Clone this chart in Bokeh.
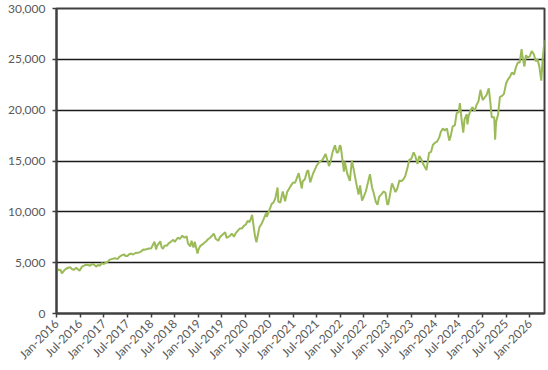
import pandas as pd
from bokeh.plotting import figure
from bokeh.models import ColumnDataSource, Range1d, FixedTicker, NumeralTickFormatter
from bokeh.embed import file_html
from bokeh.resources import INLINE
from math import pi

dates = [
    "2016-01-04", "2016-01-15", "2016-02-01", "2016-02-11", "2016-03-01", "2016-03-15", "2016-04-01", "2016-04-15",
    "2016-05-01", "2016-05-15", "2016-06-01", "2016-06-27", "2016-07-15", "2016-08-01", "2016-08-15", "2016-09-01",
    "2016-09-15", "2016-10-01", "2016-10-15", "2016-11-04", "2016-11-15", "2016-12-01", "2016-12-15",
    "2017-01-01", "2017-01-15", "2017-02-01", "2017-02-15", "2017-03-01", "2017-03-15", "2017-04-01", "2017-04-15",
    "2017-05-01", "2017-05-15", "2017-06-08", "2017-06-15", "2017-07-01", "2017-07-15", "2017-08-01", "2017-08-15",
    "2017-09-01", "2017-09-15", "2017-10-01", "2017-10-15", "2017-11-01", "2017-11-15", "2017-12-01", "2017-12-15",
    "2018-01-01", "2018-01-15", "2018-01-26", "2018-02-08", "2018-02-15", "2018-03-12", "2018-03-23", "2018-04-02",
    "2018-04-15", "2018-05-01", "2018-05-15", "2018-06-01", "2018-06-20", "2018-07-01", "2018-07-25", "2018-08-10",
    "2018-08-29", "2018-09-15", "2018-10-01", "2018-10-12", "2018-10-29", "2018-11-08", "2018-11-23", "2018-12-03",
    "2018-12-24",
    "2019-01-02", "2019-01-15", "2019-02-01", "2019-02-15", "2019-03-01", "2019-03-15", "2019-04-01", "2019-04-15",
    "2019-04-30", "2019-05-13", "2019-06-03", "2019-06-15", "2019-07-01", "2019-07-26", "2019-08-05", "2019-08-15",
    "2019-09-01", "2019-09-15", "2019-10-02", "2019-10-15", "2019-11-01", "2019-11-15", "2019-12-01", "2019-12-15",
    "2020-01-01", "2020-01-15", "2020-01-31", "2020-02-19", "2020-03-01", "2020-03-12", "2020-03-23", "2020-04-01",
    "2020-04-15", "2020-05-01", "2020-05-15", "2020-06-08", "2020-06-11", "2020-07-01", "2020-07-20", "2020-08-01",
    "2020-08-15", "2020-09-02", "2020-09-08", "2020-09-23", "2020-10-12", "2020-10-30", "2020-11-15", "2020-12-01",
    "2020-12-15",
    "2021-01-01", "2021-01-15", "2021-02-12", "2021-03-08", "2021-03-15", "2021-04-01", "2021-04-15", "2021-04-26",
    "2021-05-12", "2021-06-01", "2021-06-15", "2021-07-01", "2021-07-15", "2021-08-01", "2021-08-15", "2021-09-07",
    "2021-10-04", "2021-10-15", "2021-11-01", "2021-11-19", "2021-12-03", "2021-12-15", "2021-12-27",
    "2022-01-03", "2022-01-14", "2022-01-27", "2022-02-02", "2022-02-23", "2022-03-14", "2022-03-29", "2022-04-15",
    "2022-05-01", "2022-05-20", "2022-06-01", "2022-06-16", "2022-07-01", "2022-07-15", "2022-08-01", "2022-08-16",
    "2022-09-01", "2022-09-13", "2022-09-30", "2022-10-13", "2022-10-27", "2022-11-10", "2022-11-30", "2022-12-13",
    "2022-12-28",
    "2023-01-05", "2023-01-15", "2023-02-02", "2023-02-15", "2023-03-01", "2023-03-15", "2023-04-01", "2023-04-15",
    "2023-05-01", "2023-05-15", "2023-06-01", "2023-06-15", "2023-07-01", "2023-07-19", "2023-08-01", "2023-08-18",
    "2023-09-01", "2023-09-15", "2023-10-01", "2023-10-26", "2023-11-01", "2023-11-15", "2023-12-01", "2023-12-15",
    "2024-01-01", "2024-01-15", "2024-02-01", "2024-02-15", "2024-03-01", "2024-03-15", "2024-04-01", "2024-04-19",
    "2024-05-01", "2024-05-15", "2024-06-01", "2024-06-15", "2024-07-01", "2024-07-10", "2024-07-25", "2024-08-05",
    "2024-08-15", "2024-09-01", "2024-09-06", "2024-09-15", "2024-10-01", "2024-10-15", "2024-11-01", "2024-11-15",
    "2024-12-01", "2024-12-16",
    "2025-01-02", "2025-01-15", "2025-02-01", "2025-02-18", "2025-03-01", "2025-03-13", "2025-04-01", "2025-04-08",
    "2025-04-15", "2025-05-01", "2025-05-15", "2025-06-01", "2025-06-15", "2025-07-01", "2025-07-15", "2025-08-01",
    "2025-08-15", "2025-09-01", "2025-09-15", "2025-10-01", "2025-10-15", "2025-10-29", "2025-11-05", "2025-11-20",
    "2025-12-01", "2025-12-15",
    "2026-01-01", "2026-01-15", "2026-02-01", "2026-02-15", "2026-03-01", "2026-03-15", "2026-03-30", "2026-04-10",
    "2026-04-24",
]

values = [
    4500, 4250, 4300, 3950, 4250, 4400, 4500, 4550,
    4350, 4300, 4500, 4200, 4600, 4700, 4800, 4780,
    4700, 4880, 4820, 4600, 4780, 4700, 4950,
    4870, 5000, 5100, 5300, 5350, 5400, 5430, 5350,
    5580, 5700, 5820, 5650, 5650, 5830, 5900, 5800,
    5950, 5980, 6000, 6100, 6300, 6280, 6350, 6400,
    6400, 6800, 7050, 6300, 6650, 7100, 6500, 6350,
    6700, 6650, 6900, 7050, 7250, 7050, 7450, 7350,
    7650, 7450, 7600, 6900, 6600, 7150, 6500, 7050,
    5900,
    6350, 6650, 6800, 6950, 7100, 7300, 7450, 7650,
    7850, 7350, 7150, 7500, 7700, 8000, 7450, 7500,
    7650, 7850, 7550, 7900, 8150, 8350, 8350, 8600,
    8750, 9100, 9000, 9700, 8600, 7600, 7000, 7600,
    8500, 8800, 9200, 9950, 9500, 10200, 10800, 10900,
    11300, 12400, 11000, 10900, 12000, 11050, 11950, 12300,
    12600,
    12900, 12850, 13800, 12300, 13000, 13200, 13900, 14100,
    12900, 13700, 14100, 14550, 14800, 15000, 15100, 15700,
    14500, 14900, 15900, 16550, 15800, 15900, 16550,
    16400, 15300, 13950, 14950, 13700, 13050, 15050, 14000,
    12900, 11700, 12600, 11100, 11550, 12000, 12900, 13700,
    12400, 11900, 11000, 10700, 11500, 11700, 12000, 11900,
    10700,
    10800, 11500, 12800, 12400, 11950, 12300, 13100, 13000,
    13200, 13500, 14300, 15100, 15200, 15850, 15500, 14700,
    15500, 15200, 14700, 14100, 14600, 15800, 15900, 16600,
    16800, 16900, 17300, 17900, 18200, 18000, 18200, 17000,
    17500, 18400, 18500, 19700, 19800, 20700, 18900, 17800,
    19100, 19600, 18600, 19400, 20000, 20300, 19900, 20500,
    20900, 22000,
    21000, 21200, 21500, 22150, 20900, 19300, 19300, 17100,
    18800, 19600, 21300, 21400, 21600, 22600, 23000, 23300,
    23700, 23500, 24200, 24700, 24700, 26000, 25300, 24300,
    25400, 25200,
    25300, 25800, 25500, 24800, 25000, 24300, 22900, 25000,
    26900,
]

tick_dates = [
    "2016-01-01", "2016-07-01", "2017-01-01", "2017-07-01", "2018-01-01", "2018-07-01", "2019-01-01",
    "2019-07-01", "2020-01-01", "2020-07-01", "2021-01-01", "2021-07-01", "2022-01-01", "2022-07-01",
    "2023-01-01", "2023-07-01", "2024-01-01", "2024-07-01", "2025-01-01", "2025-07-01", "2026-01-01",
]
tick_labels = [
    "Jan-2016", "Jul-2016", "Jan-2017", "Jul-2017", "Jan-2018", "Jul-2018", "Jan-2019",
    "Jul-2019", "Jan-2020", "Jul-2020", "Jan-2021", "Jul-2021", "Jan-2022", "Jul-2022",
    "Jan-2023", "Jul-2023", "Jan-2024", "Jul-2024", "Jan-2025", "Jul-2025", "Jan-2026",
]
y_ticks = [0, 5000, 10000, 15000, 20000, 25000, 30000]

x_start = "2016-01-01"
x_end = "2026-04-24"

df = pd.DataFrame({"date": pd.to_datetime(dates), "value": values})
src = ColumnDataSource(df)

def ms(s):
    return float(pd.Timestamp(s).value // 10**6)

p = figure(width=548, height=370, x_axis_type="datetime",
           output_backend="svg", toolbar_location=None,
           x_range=Range1d(pd.Timestamp(x_start), pd.Timestamp(x_end)),
           y_range=Range1d(0, 30000),
           min_border_left=56, min_border_right=4, min_border_top=8, min_border_bottom=56)

p.line("date", "value", source=src, line_color="#9BBB59", line_width=2)

FONT = "Lato"
GREY = "#595959"
AX = "#404040"

tick_ms = [ms(d) for d in tick_dates]
p.xaxis.ticker = FixedTicker(ticks=tick_ms, minor_ticks=[])
p.xaxis.major_label_overrides = {t: l for t, l in zip(tick_ms, tick_labels)}
p.xaxis.major_label_orientation = pi / 4
p.yaxis.ticker = FixedTicker(ticks=y_ticks, minor_ticks=[])
p.yaxis.formatter = NumeralTickFormatter(format="0,0")

for ax in (p.xaxis, p.yaxis):
    ax.axis_line_color = AX
    ax.axis_line_width = 2
    ax.major_tick_line_color = AX
    ax.major_tick_line_width = 1.5
    ax.major_tick_out = 4
    ax.major_tick_in = 0
    ax.minor_tick_line_color = None
    ax.major_label_text_font = FONT
    ax.major_label_text_font_size = "12px"
    ax.major_label_text_color = GREY
p.yaxis.major_label_standoff = 7
p.xaxis.major_label_standoff = 4

p.xgrid.grid_line_color = None
p.ygrid.grid_line_color = "#1a1a1a"
p.ygrid.grid_line_width = 1.5
p.outline_line_color = AX
p.outline_line_width = 2
p.background_fill_color = "white"
p.border_fill_color = "white"

open("out.html", "w").write(file_html(p, INLINE))
